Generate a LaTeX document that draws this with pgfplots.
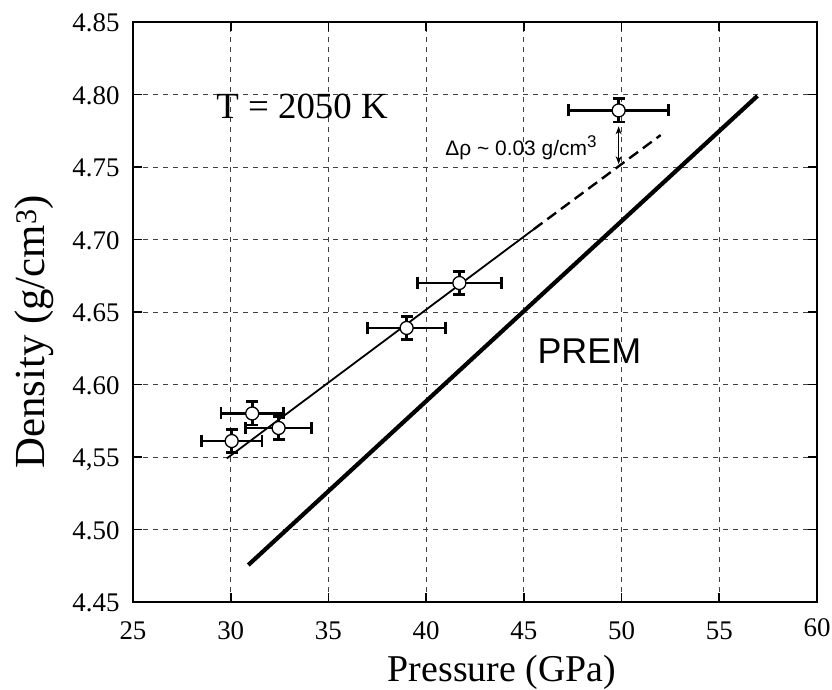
\documentclass[border=0pt]{standalone}
\usepackage{fontspec}
\setmainfont{Liberation Serif}
\setsansfont{Liberation Sans}
\usepackage{pgfplots}
\pgfplotsset{compat=1.18}
\usetikzlibrary{arrows.meta}
\newcommand{\tl}[1]{\fontsize{27}{29}\selectfont #1}
\pgfplotstableread{
x y ex ey
30.05 4.561 1.55 0.008
31.10 4.580 1.60 0.008
32.45 4.570 1.70 0.008
39.00 4.639 2.00 0.008
41.70 4.670 2.15 0.008
49.85 4.789 2.55 0.008
}\datatable
\begin{document}
\begin{tikzpicture}[x=1bp,y=1bp]
\path[use as bounding box] (-133,-88) rectangle (699,602);
\begin{axis}[
  at={(0,0)}, anchor=south west,
  scale only axis, width=684bp, height=580bp,
  xmin=25, xmax=60, ymin=4.45, ymax=4.85,
  xtick={25,30,...,60},
  xticklabels={\tl{25},\tl{30},\tl{35},\tl{40},\tl{45},\tl{50},\tl{55},\raisebox{3bp}{\tl{60}}},
  ytick={4.45,4.50,4.55,4.60,4.65,4.70,4.75,4.80,4.85},
  yticklabels={\tl{4.45},\tl{4.50},\tl{4,55},\tl{4.60},\tl{4.65},\tl{4.70},\tl{4.75},\tl{4.80},\tl{4.85}},
  xticklabel style={anchor=base, yshift=-38bp},
  yticklabel style={anchor=base east, xshift=-10bp, yshift=-10bp},
  grid=major,
  grid style={dash pattern=on 5bp off 5bp, black!75, line width=0.8bp},
  tick align=inside, major tick length=9bp,
  tick style={black, line width=1.8bp},
  axis line style={line width=2.5bp},
  xlabel={Pressure (GPa)}, ylabel={Density (g/cm$^{\mathrm{3}}$)},
  xlabel style={font=\fontsize{38}{40}\selectfont, at={(axis description cs:0.5,0)}, anchor=base, yshift=-79bp, xshift=27bp},
  ylabel style={font=\fontsize{43}{45}\selectfont, at={(axis description cs:0,0.5)}, anchor=base, yshift=88bp, xshift=-20bp},
  clip=false,
]
% PREM
\addplot[black, line width=4.2bp] coordinates {(30.9,4.4755) (56.95,4.799)};
% fit line solid
\addplot[black, line width=1.8bp] coordinates {(29.8,4.549) (45.5,4.707)};
% fit line dashed
\addplot[black, line width=2.4bp, dash pattern=on 11bp off 6bp] coordinates {(45.5,4.707) (52.0,4.772)};
% data with error bars
\addplot[black, only marks, mark=*, mark size=6.5bp,
  mark options={fill=white, draw=black, line width=1.3bp},
  error bars/.cd, x dir=both, x explicit, y dir=both, y explicit,
  error bar style={line width=2.8bp},
  error mark options={rotate=90, mark size=6bp, line width=2.8bp}]
  table[x=x, y=y, x error=ex, y error=ey] {\datatable};
% delta rho arrow
\addplot[black, line width=1.3bp, {Stealth[length=8bp,width=6bp]}-{Stealth[length=8bp,width=6bp]}] coordinates {(49.85,4.778) (49.85,4.752)};
\node[font=\fontsize{37}{38}\selectfont] at (axis cs:33.65,4.792) {T = 2050 K};
\node[font=\sffamily\fontsize{36}{38}\selectfont] at (axis cs:48.35,4.623) {PREM};
\node[font=\sffamily\fontsize{21}{22}\selectfont] at (axis cs:44.85,4.763) {Δρ \char`\~{} 0.03 g/cm\raisebox{8bp}{\fontsize{17}{17}\selectfont 3}};
\end{axis}
\end{tikzpicture}
\end{document}
